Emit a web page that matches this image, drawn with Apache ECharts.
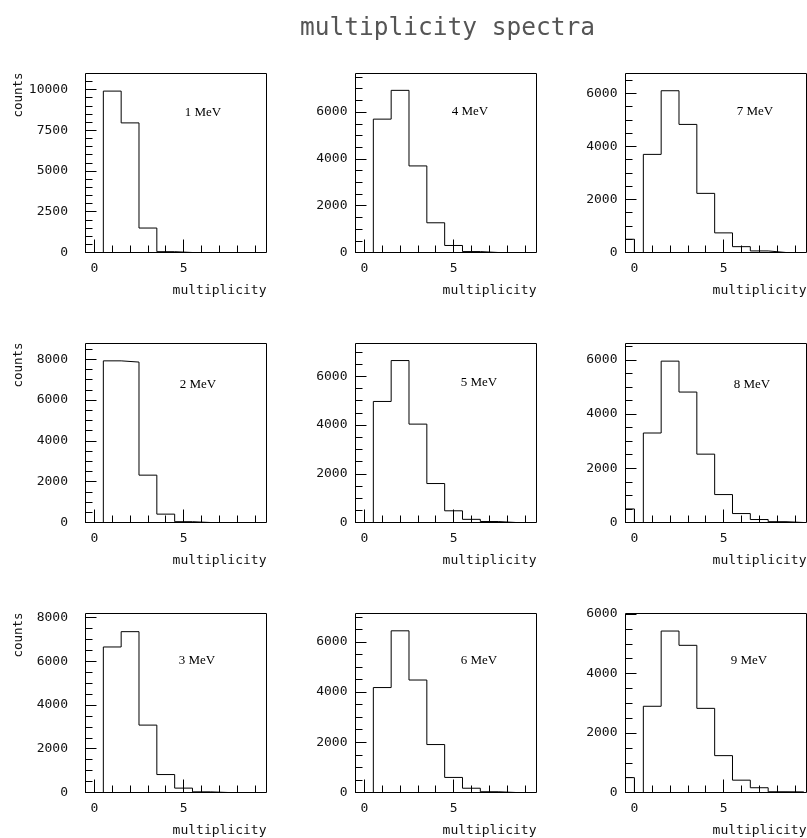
<!DOCTYPE html>
<html lang="en">
<head>
<meta charset="UTF-8">
<title>multiplicity spectra</title>
<script src="https://cdn.jsdelivr.net/npm/echarts@6/dist/echarts.min.js"></script>
<style>html, body { margin: 0; padding: 0; background: #fff; }</style>
</head>
<body>
<div id="main" style="width: 807px; height: 838px;"></div>
<script type="text/javascript">
// panel names, column by column (1-3, 4-6, 7-9)
var energies = ['1 MeV', '2 MeV', '3 MeV', '4 MeV', '5 MeV', '6 MeV', '7 MeV', '8 MeV', '9 MeV'];

// histogram bins: multiplicity 0 .. 9
var binLow  = [-0.5, 0.5, 1.5, 2.5, 3.5, 4.5, 5.5, 6.5, 7.5, 8.5];
var binHigh = [0,    1.5, 2.5, 3.5, 4.5, 5.5, 6.5, 7.5, 8.5, 9.5];

// counts per multiplicity bin (m = 0 .. 9)
var counts1 = [0,   9900, 7950, 1500, 50,   0,    0,   0,   0,  0];
var counts2 = [0,   7920, 7860, 2320, 410,  40,   0,   0,   0,  0];
var counts3 = [0,   6650, 7350, 3080, 820,  200,  30,  0,   0,  0];
var counts4 = [0,   5700, 6930, 3700, 1270, 300,  40,  0,   0,  0];
var counts5 = [0,   4970, 6650, 4040, 1600, 480,  130, 40,  0,  0];
var counts6 = [0,   4180, 6440, 4480, 1910, 600,  170, 30,  0,  0];
var counts7 = [500, 3700, 6100, 4830, 2230, 740,  220, 60,  0,  0];
var counts8 = [500, 3300, 5950, 4810, 2520, 1030, 330, 110, 30, 0];
var counts9 = [500, 2900, 5430, 4950, 2830, 1240, 415, 160, 25, 20];
var allCounts = [counts1, counts2, counts3, counts4, counts5, counts6, counts7, counts8, counts9];

// axis ranges and tick labels
var yMax = [10980, 8770, 8180, 7650, 7350, 7130, 6750, 6600, 6020];
var yTicks10k = [0, 2500, 5000, 7500, 10000];
var yTicks8k = [0, 2000, 4000, 6000, 8000];
var yTicks6k = [0, 2000, 4000, 6000];
var yTickLabels = [yTicks10k, yTicks8k, yTicks8k, yTicks6k, yTicks6k, yTicks6k, yTicks6k, yTicks6k, yTicks6k];
var xMajorTicks = [0, 5];
var xMinorTicks = [1, 2, 3, 4, 6, 7, 8, 9];

var chart = echarts.init(document.getElementById('main'));

var mono = '"DejaVu Sans Mono", monospace';
var colLeft = [85.5, 355.5, 625.5];
var rowTop = [73.5, 343.5, 613.5];
var labelMargin = [17.5, 8, 8];
var namePos = [[203, 113], [198, 385], [197, 661], [470, 112], [479, 383], [479, 661], [755, 112], [752, 385], [749, 661]];

function steps(step, max) {
    var a = [];
    for (var v = 0; v <= max; v += step) a.push(v);
    return a;
}

// histogram outline built from the bins
function outline(vals) {
    var pts = [[binLow[0], 0]];
    for (var i = 0; i < vals.length; i++) {
        if (i > 0 && binLow[i] > binHigh[i - 1]) {
            pts.push([binHigh[i - 1], 0], [binLow[i], 0]);
        }
        pts.push([binLow[i], vals[i]], [binHigh[i], vals[i]]);
    }
    pts.push([binHigh[vals.length - 1], 0]);
    return pts;
}

var grids = [], xAxes = [], yAxes = [], series = [], graphics = [];

energies.forEach(function (name, i) {
    var col = Math.floor(i / 3), row = i % 3;
    grids.push({
        left: colLeft[col], top: rowTop[row], width: 181, height: 179,
        show: true, borderColor: '#000', borderWidth: 1,
        outerBoundsMode: 'none'
    });

    var xBase = {
        gridIndex: i, type: 'value', position: 'bottom', min: -0.5, max: 9.65,
        axisLine: {show: false, onZero: false},
        splitLine: {show: false}
    };
    // minor x ticks
    xAxes.push(Object.assign({}, xBase, {
        axisLabel: {show: false},
        axisTick: {show: true, inside: true, length: 7, customValues: xMinorTicks, lineStyle: {color: '#000'}}
    }));
    // major x ticks with labels
    xAxes.push(Object.assign({}, xBase, {
        name: 'multiplicity',
        nameLocation: 'end',
        nameGap: 0,
        nameTextStyle: {fontFamily: mono, fontSize: 13, color: '#111', align: 'right', verticalAlign: 'top', padding: [31.5, 0, 0, 0]},
        axisTick: {show: true, inside: true, length: 13, customValues: xMajorTicks, lineStyle: {color: '#000'}},
        axisLabel: {show: true, customValues: xMajorTicks, margin: 10, fontFamily: mono, fontSize: 13, color: '#111'}
    }));

    var yBase = {
        gridIndex: i, type: 'value', position: 'left', min: 0, max: yMax[i],
        axisLine: {show: false, onZero: false},
        splitLine: {show: false}
    };
    // minor y ticks every 500
    yAxes.push(Object.assign({}, yBase, {
        axisLabel: {show: false},
        axisTick: {show: true, inside: true, length: 7, customValues: steps(500, yMax[i]), lineStyle: {color: '#000'}}
    }));
    // major y ticks with labels
    yAxes.push(Object.assign({}, yBase, {
        axisTick: {show: true, inside: true, length: 11, customValues: yTickLabels[i], lineStyle: {color: '#000'}},
        axisLabel: {
            show: true, customValues: yTickLabels[i], margin: labelMargin[col],
            fontFamily: mono, fontSize: 13, color: '#111',
            formatter: function (v) { return String(v); }
        }
    }));

    series.push({
        type: 'line',
        xAxisIndex: 2 * i,
        yAxisIndex: 2 * i,
        data: outline(allCounts[i]),
        showSymbol: false,
        symbol: 'none',
        lineStyle: {color: '#000', width: 1},
        silent: true
    });

    graphics.push({
        type: 'text', x: namePos[i][0], y: namePos[i][1],
        style: {text: name, font: '13px "Liberation Serif", serif', fill: '#000', align: 'center', verticalAlign: 'middle'}
    });
    if (col === 0) {
        graphics.push({
            type: 'text', x: 19, y: rowTop[row] + 21.5, rotation: Math.PI / 2,
            style: {text: 'counts', font: '12.5px ' + mono, fill: '#111', align: 'center', verticalAlign: 'middle'}
        });
    }
});

var option = {
    animation: false,
    backgroundColor: '#fff',
    title: {
        text: 'multiplicity spectra',
        left: 300, top: 16, padding: 0,
        textStyle: {fontFamily: mono, fontSize: 24.5, fontWeight: 'normal', color: '#555'}
    },
    grid: grids,
    xAxis: xAxes,
    yAxis: yAxes,
    series: series,
    graphic: graphics
};

chart.setOption(option);
</script>
</body>
</html>
